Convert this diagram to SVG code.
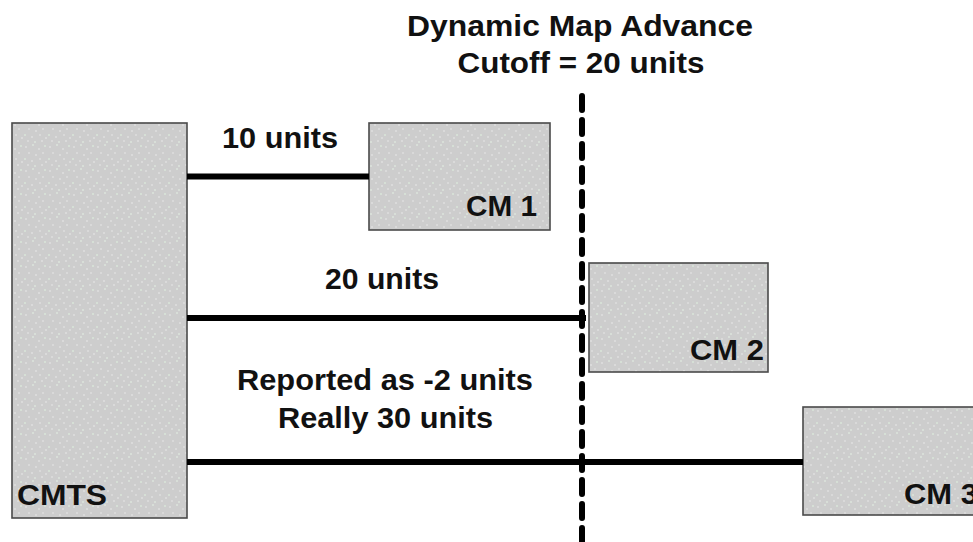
<svg xmlns="http://www.w3.org/2000/svg" width="973" height="542" viewBox="0 0 973 542">
  <defs>
    <!-- speckled grey fill used by every box -->
    <pattern id="speckle" width="24" height="24" patternUnits="userSpaceOnUse">
      <rect width="24" height="24" fill="#cdcdcd"/>
      <circle cx="2" cy="3" r="0.8" fill="#ececec"/>
      <circle cx="9" cy="1" r="0.8" fill="#e6f5e6"/>
      <circle cx="15" cy="5" r="0.8" fill="#ececec"/>
      <circle cx="21" cy="2" r="0.8" fill="#e2f7e2"/>
      <circle cx="5" cy="9" r="0.8" fill="#e8e8e8"/>
      <circle cx="12" cy="11" r="0.8" fill="#ececec"/>
      <circle cx="19" cy="9" r="0.8" fill="#e8e8e8"/>
      <circle cx="1" cy="15" r="0.8" fill="#e2f7e2"/>
      <circle cx="8" cy="17" r="0.8" fill="#ececec"/>
      <circle cx="16" cy="15" r="0.8" fill="#e8e8e8"/>
      <circle cx="22" cy="18" r="0.8" fill="#ececec"/>
      <circle cx="4" cy="21" r="0.8" fill="#e8e8e8"/>
      <circle cx="11" cy="22" r="0.8" fill="#e6f5e6"/>
      <circle cx="18" cy="21" r="0.8" fill="#ececec"/>
    </pattern>
  </defs>
  <style>
    .box { fill: url(#speckle); stroke: #4a4a4a; stroke-width: 1.6; }
    .lbl { font-family: "Liberation Sans", Arial, sans-serif; font-weight: bold; font-size: 29px; fill: #111; }
    .mid { text-anchor: middle; }
    .end { text-anchor: end; }
    .link { stroke: #000; stroke-width: 6; fill: none; }
    .cutoff { stroke: #000; stroke-width: 6; fill: none; stroke-linecap: round; stroke-dasharray: 14 10; }
  </style>
  <rect width="973" height="542" fill="#fff"/>

  <!-- cutoff caption -->
  <g id="cutoff-label">
    <text class="lbl mid" x="580" y="36" textLength="346" lengthAdjust="spacingAndGlyphs">Dynamic Map Advance</text>
    <text class="lbl mid" x="581" y="73" textLength="247" lengthAdjust="spacingAndGlyphs">Cutoff = 20 units</text>
  </g>

  <!-- nodes -->
  <g id="cmts">
    <rect class="box" x="12" y="123" width="175" height="395"/>
    <text class="lbl" x="17" y="505" textLength="90" lengthAdjust="spacingAndGlyphs">CMTS</text>
  </g>
  <g id="cm1">
    <rect class="box" x="369" y="123" width="181" height="107"/>
    <text class="lbl end" x="537" y="216" textLength="71" lengthAdjust="spacingAndGlyphs">CM 1</text>
  </g>
  <g id="cm2">
    <rect class="box" x="589" y="263" width="179" height="109"/>
    <text class="lbl end" x="764" y="360" textLength="74" lengthAdjust="spacingAndGlyphs">CM 2</text>
  </g>
  <g id="cm3">
    <rect class="box" x="803" y="407" width="185" height="108"/>
    <text class="lbl" x="904" y="504" textLength="74" lengthAdjust="spacingAndGlyphs">CM 3</text>
  </g>

  <!-- connectors -->
  <g id="connectors">
    <line class="cutoff" x1="582" y1="96" x2="582" y2="548"/>
    <line class="link" x1="187" y1="176.5" x2="369" y2="176.5"/>
    <line class="link" x1="187" y1="318" x2="586" y2="318"/>
    <line class="link" x1="187" y1="462" x2="803" y2="462"/>
  </g>

  <!-- connector labels -->
  <g id="link-labels">
    <text class="lbl mid" x="280" y="148" textLength="116" lengthAdjust="spacingAndGlyphs">10 units</text>
    <text class="lbl mid" x="382" y="289" textLength="114" lengthAdjust="spacingAndGlyphs">20 units</text>
    <text class="lbl mid" x="385" y="390" textLength="296" lengthAdjust="spacingAndGlyphs">Reported as -2 units</text>
    <text class="lbl mid" x="385.5" y="428" textLength="215" lengthAdjust="spacingAndGlyphs">Really 30 units</text>
  </g>
</svg>
